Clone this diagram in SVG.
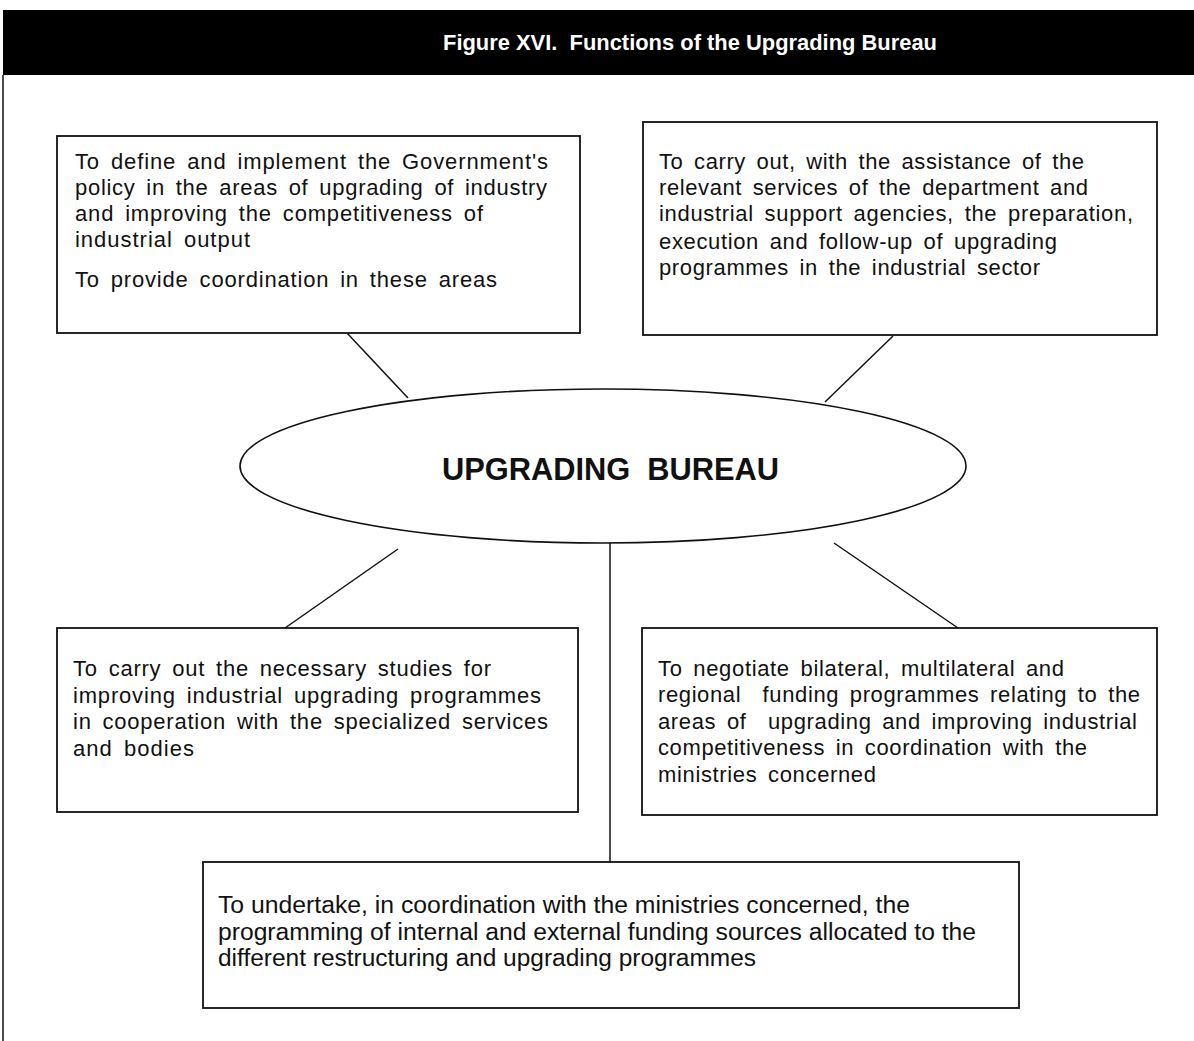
<svg xmlns="http://www.w3.org/2000/svg" width="1194" height="1041" viewBox="0 0 1194 1041">
<style>
.box{fill:#fff;stroke:#111;stroke-width:1.8}
.t{font-family:"Liberation Sans",Arial,sans-serif;font-size:22px;word-spacing:4px;fill:#111}
.tn{font-family:"Liberation Sans",Arial,sans-serif;font-size:23px;fill:#111}
.conn{stroke:#111;stroke-width:1.5;fill:none}
</style>
<rect x="0" y="0" width="1194" height="1041" fill="#fff"/>
<g id="header">
<rect x="3" y="10" width="1191" height="65" fill="#000"/>
<text x="443" y="50" font-family="Liberation Sans,Arial,sans-serif" font-weight="bold" font-size="22" fill="#fff" textLength="494" lengthAdjust="spacingAndGlyphs" xml:space="preserve">Figure XVI.  Functions of the Upgrading Bureau</text>
<line x1="3" y1="75" x2="3" y2="1041" stroke="#111" stroke-width="1.5"/>
</g>
<g id="connectors">
<line class="conn" x1="347" y1="333" x2="408" y2="398"/>
<line class="conn" x1="893" y1="336" x2="825" y2="402"/>
<line class="conn" x1="285" y1="628" x2="398" y2="549"/>
<line class="conn" x1="834" y1="543" x2="958" y2="628"/>
<line class="conn" x1="610" y1="543" x2="610" y2="862"/>
</g>
<g id="bureau">
<ellipse cx="603" cy="466" rx="363" ry="77" fill="#fff" stroke="#111" stroke-width="1.6"/>
<text x="442" y="480" font-family="Liberation Sans,Arial,sans-serif" font-weight="bold" font-size="31" fill="#111" textLength="337" lengthAdjust="spacingAndGlyphs" xml:space="preserve">UPGRADING  BUREAU</text>
</g>
<g id="box-define">
<rect class="box" x="57" y="136" width="523" height="197"/>
<text class="t" x="75" y="169" textLength="473">To define and implement the Government's</text>
<text class="t" x="75" y="195" textLength="472">policy in the areas of upgrading of industry</text>
<text class="t" x="75" y="221" textLength="408">and improving the competitiveness of</text>
<text class="t" x="75" y="247" textLength="175">industrial output</text>
<text class="t" x="75" y="287" textLength="422">To provide coordination in these areas</text>
</g>
<g id="box-carry">
<rect class="box" x="643" y="122" width="514" height="213"/>
<text class="t" x="659" y="169" textLength="425">To carry out, with the assistance of the</text>
<text class="t" x="659" y="195" textLength="429">relevant services of the department and</text>
<text class="t" x="659" y="221" textLength="474">industrial support agencies, the preparation,</text>
<text class="t" x="659" y="249" textLength="398">execution and follow-up of upgrading</text>
<text class="t" x="659" y="275" textLength="381">programmes in the industrial sector</text>
</g>
<g id="box-studies">
<rect class="box" x="57" y="628" width="521" height="184"/>
<text class="t" x="73" y="676" textLength="418">To carry out the necessary studies for</text>
<text class="t" x="73" y="703" textLength="468">improving industrial upgrading programmes</text>
<text class="t" x="73" y="729" textLength="475">in cooperation with the specialized services</text>
<text class="t" x="73" y="756" textLength="121">and bodies</text>
</g>
<g id="box-negotiate">
<rect class="box" x="642" y="628" width="515" height="187"/>
<text class="t" x="658" y="676" textLength="406">To negotiate bilateral, multilateral and</text>
<text class="t" x="658" y="702" textLength="482" xml:space="preserve">regional  funding programmes relating to the</text>
<text class="t" x="658" y="729" textLength="479" xml:space="preserve">areas of  upgrading and improving industrial</text>
<text class="t" x="658" y="755" textLength="429">competitiveness in coordination with the</text>
<text class="t" x="658" y="782" textLength="218">ministries concerned</text>
</g>
<g id="box-undertake">
<rect class="box" x="203" y="862" width="816" height="146"/>
<text class="tn" x="218" y="913" textLength="692" lengthAdjust="spacingAndGlyphs">To undertake, in coordination with the ministries concerned, the</text>
<text class="tn" x="218" y="940" textLength="758" lengthAdjust="spacingAndGlyphs">programming of internal and external funding sources allocated to the</text>
<text class="tn" x="218" y="966" textLength="538" lengthAdjust="spacingAndGlyphs">different restructuring and upgrading programmes</text>
</g>
</svg>
